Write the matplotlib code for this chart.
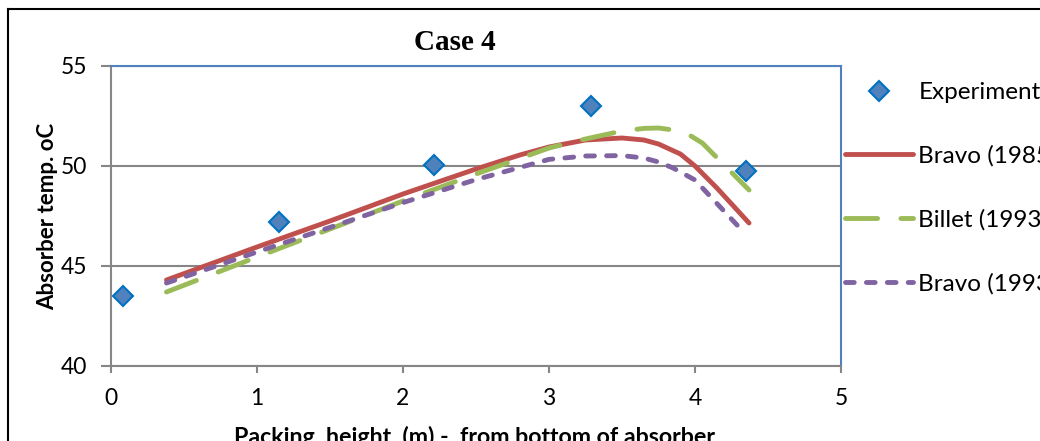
import matplotlib
matplotlib.use("Agg")
import matplotlib.pyplot as plt
from matplotlib.lines import Line2D

# experimental points
exp_x = [0.08, 1.15, 2.21, 3.29, 4.35]
exp_y = [43.5, 47.2, 50.05, 53.0, 49.75]

# model curves
bravo85_x = [0.38, 1.0, 1.5, 2.0, 2.5, 2.8, 3.0, 3.25, 3.5, 3.65, 3.75, 3.9, 4.0, 4.15, 4.37]
bravo85_y = [44.3, 45.95, 47.25, 48.6, 49.85, 50.55, 50.95, 51.3, 51.4, 51.3, 51.1, 50.6, 50.0, 48.9, 47.15]

billet_x = [0.38, 1.0, 1.5, 2.0, 2.5, 3.0, 3.25, 3.5, 3.65, 3.75, 3.85, 3.95, 4.05, 4.2, 4.37]
billet_y = [43.7, 45.45, 46.85, 48.25, 49.6, 50.9, 51.35, 51.75, 51.88, 51.9, 51.8, 51.6, 51.15, 50.05, 48.8]

bravo93_x = [0.38, 1.0, 1.5, 2.0, 2.5, 3.0, 3.25, 3.5, 3.65, 3.75, 3.85, 4.0, 4.17, 4.32]
bravo93_y = [44.15, 45.7, 46.93, 48.17, 49.32, 50.33, 50.5, 50.52, 50.4, 50.2, 49.9, 49.3, 47.97, 46.8]

labels = ["Experiment", "Bravo (1985)", "Billet (1993)", "Bravo (1993)"]

font = "Lato"
plt.rcParams["font.family"] = [font, "DejaVu Sans"]

fig = plt.figure(figsize=(10.4, 4.41), dpi=100)
ax = fig.add_axes([111 / 1040, 75 / 441, 730 / 1040, 300 / 441])

lw = 3.5
ax.plot(exp_x, exp_y, linestyle="none", marker="D", markersize=10.5,
        markerfacecolor="#4F81BD", markeredgecolor="#0070C0",
        markeredgewidth=1.5, label=labels[0], zorder=5)
ax.plot(bravo85_x, bravo85_y, color="#C0504D", linewidth=lw,
        solid_capstyle="round", solid_joinstyle="round", label=labels[1])
ax.plot(billet_x, billet_y, color="#9BBB59", linewidth=lw,
        dashes=(6.6, 4.8), dash_capstyle="round", dash_joinstyle="round",
        label=labels[2])
ax.plot(bravo93_x, bravo93_y, color="#8064A2", linewidth=lw,
        dashes=(1.8, 2.5), dash_capstyle="round", dash_joinstyle="round",
        label=labels[3])

ax.set_xlim(0, 5)
ax.set_ylim(40, 55)
ax.set_xticks([0, 1, 2, 3, 4, 5])
ax.set_yticks([40, 45, 50, 55])
ax.grid(True, axis="y", color="#868686", linewidth=1.5)
ax.set_axisbelow(True)

for side in ["left", "bottom"]:
    ax.spines[side].set_color("#868686")
    ax.spines[side].set_linewidth(1.5)
for side in ["top", "right"]:
    ax.spines[side].set_color("#4F81BD")
    ax.spines[side].set_linewidth(1.5)
ax.spines["top"].set_zorder(3)

ax.tick_params(axis="y", length=7, width=1.5, color="#868686", pad=10,
               labelsize=16.5)
ax.tick_params(axis="x", length=5, width=1.5, color="#868686", pad=11,
               labelsize=16.5)

fig.text(455 / 1040, 1 - 42 / 441, "Case 4", family="Liberation Serif",
         fontweight="bold", fontsize=21, ha="center", va="center")
fig.text(48 / 1040, 1 - 216 / 441, "Absorber temp. oC", fontweight="bold",
         fontsize=16, rotation=90, ha="center", va="center")
fig.text(475 / 1040, 1 - 437 / 441,
         "Packing  height  (m) -  from bottom of absorber",
         fontweight="bold", fontsize=16.7, ha="center", va="center")

ax.legend(loc="upper left", bbox_to_anchor=(845 / 1040, 1 - 82 / 441),
          bbox_transform=fig.transFigure, frameon=False, fontsize=17.5,
          handlelength=2.8, handletextpad=0.22, labelspacing=1.74,
          borderaxespad=0, borderpad=0)

# outer chart border (cut off on the right and bottom)
fig.add_artist(Line2D([8 / 1040, 8 / 1040], [0, 1 - 9 / 441],
                      transform=fig.transFigure, color="black", linewidth=1.5))
fig.add_artist(Line2D([8 / 1040, 1], [1 - 9 / 441, 1 - 9 / 441],
                      transform=fig.transFigure, color="black", linewidth=1.5))

fig.savefig("out.png", dpi=100)
